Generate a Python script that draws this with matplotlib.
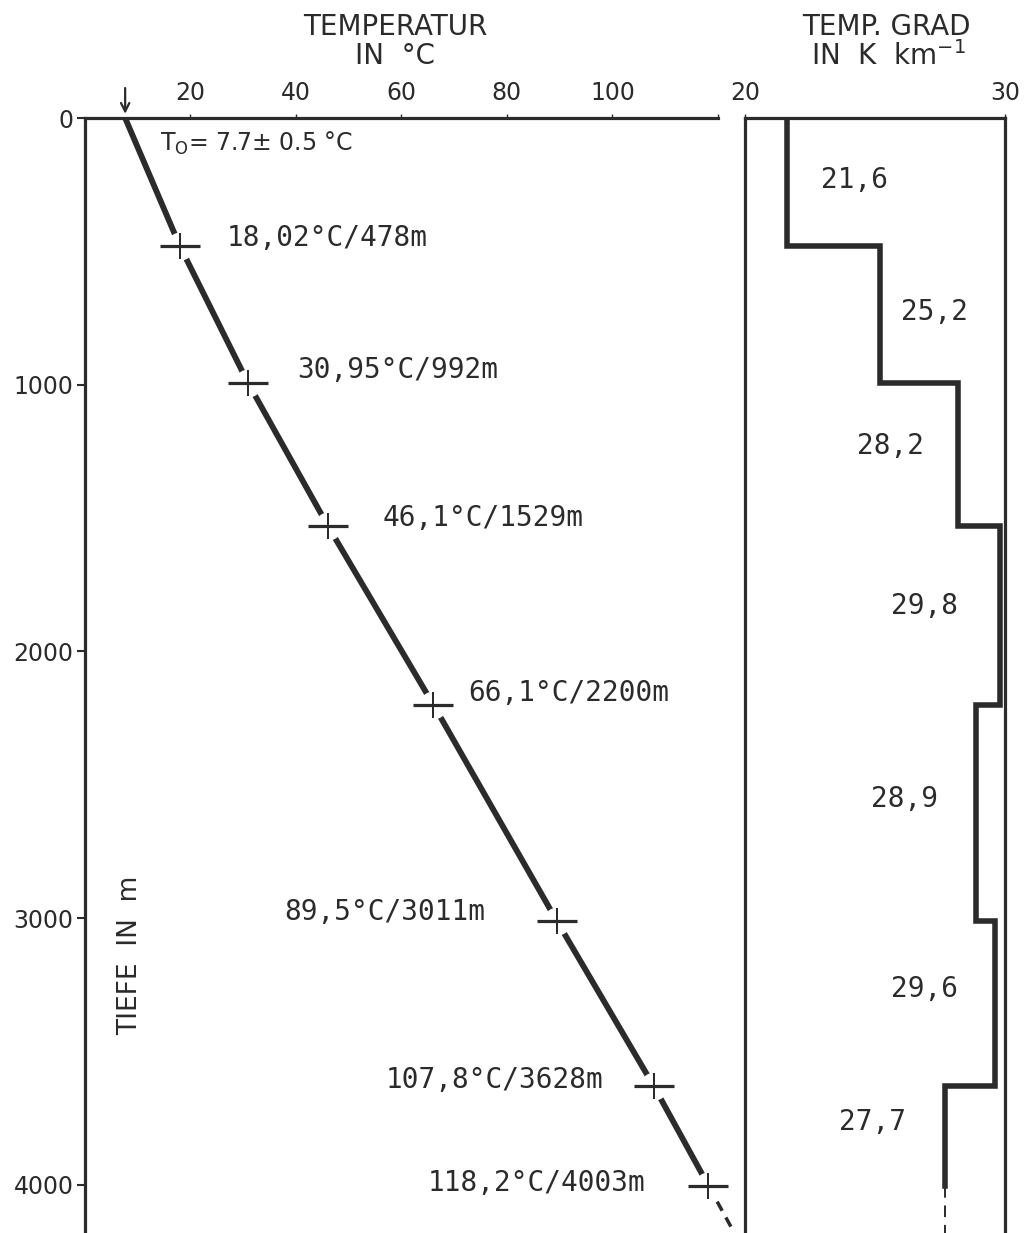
import matplotlib
matplotlib.use('Agg')
import matplotlib.pyplot as plt
import numpy as np

# ---------------- data ----------------
depth_m = [0, 478, 992, 1529, 2200, 3011, 3628, 4003]
temp_c = [7.7, 18.02, 30.95, 46.1, 66.1, 89.5, 107.8, 118.2]
point_labels = ['18,02°C/478m', '30,95°C/992m', '46,1°C/1529m', '66,1°C/2200m',
                '89,5°C/3011m', '107,8°C/3628m', '118,2°C/4003m']
grad_top = [0, 478, 992, 1529, 2200, 3011, 3628]
grad_bottom = [478, 992, 1529, 2200, 3011, 3628, 4003]
grad_values = [21.6, 25.2, 28.2, 29.8, 28.9, 29.6, 27.7]
grad_labels = ['21,6', '25,2', '28,2', '29,8', '28,9', '29,6', '27,7']
temp_ticks = [20, 40, 60, 80, 100, 120]
temp_ticklabels = ['20', '40', '60', '80', '100', '']
depth_ticks = [0, 1000, 2000, 3000, 4000]
grad_ticks = [20, 30]
extrap_depth = 4180

# ---------------- layout ----------------
W, H = 1026, 1233
fig = plt.figure(figsize=(W / 100, H / 100), dpi=100)
PT = 0.72  # points per pixel
INK = '#2b2b2b'
MONO = 'DejaVu Sans Mono'


def fx(px):
    return px / W


def fy(py):
    return 1 - py / H


top_frac = 1 - 118 / H
axT = fig.add_axes([84.5 / W, 0, (718 - 84.5) / W, top_frac])
axG = fig.add_axes([745 / W, 0, (1005 - 745) / W, top_frac])

# ---------- temperature panel ----------
axT.set_xlim(0, 120)
axT.set_ylim(extrap_depth, 0)
axT.plot(temp_c, depth_m, color=INK, lw=4.2, solid_capstyle='butt', zorder=2)
# dashed extrapolation with last gradient
last_grad = grad_values[-1]
ext_t = temp_c[-1] + last_grad * (extrap_depth - depth_m[-1]) / 1000
axT.plot([temp_c[-1], ext_t], [depth_m[-1], extrap_depth], color=INK, lw=2.5,
         ls=(0, (3, 2.2)), clip_on=False, zorder=2)
# gaps + crosshairs at measured points
axT.plot(temp_c[1:], depth_m[1:], ls='none', marker='o', ms=28 * PT,
         mfc='white', mec='none', zorder=3, clip_on=False)
axT.plot(temp_c[1:], depth_m[1:], ls='none', marker='_', ms=40 * PT,
         mew=3.2 * PT, color=INK, zorder=4, clip_on=False)
axT.plot(temp_c[1:], depth_m[1:], ls='none', marker='|', ms=26 * PT,
         mew=2.0 * PT, color=INK, zorder=4, clip_on=False)

offsets_px = [(47, 8, 'left'), (49, 13, 'left'), (55, 8, 'left'), (35, 12, 'left'),
              (-72, 9, 'right'), (-50, 6, 'right'), (-63, 3, 'right')]
for t, d, lab, (dx, dy, ha) in zip(temp_c[1:], depth_m[1:], point_labels, offsets_px):
    axT.annotate(lab, xy=(t, d), xytext=(dx * PT, dy * PT), textcoords='offset points',
                 ha=ha, va='center', fontsize=20, family=MONO, color=INK)

fig.text(fx(160), fy(143), r'T$_{\mathsf{O}}$= 7.7± 0.5 °C',
         fontsize=17, color=INK, va='center', ha='left')
axT.annotate('', xy=(temp_c[0], 0), xytext=(0, 30 * PT), textcoords='offset points',
             xycoords='data',
             arrowprops=dict(arrowstyle='->,head_width=0.3,head_length=0.6',
                             color=INK, lw=1.6, shrinkA=0, shrinkB=3))

for s in ['right', 'bottom']:
    axT.spines[s].set_visible(False)
for s in ['top', 'left']:
    axT.spines[s].set_linewidth(2.3)
    axT.spines[s].set_color(INK)
axT.xaxis.tick_top()
axT.set_xticks(temp_ticks)
axT.set_xticklabels(temp_ticklabels)
axT.tick_params(axis='x', top=True, bottom=False, length=3, width=1, pad=6,
                labelsize=17, colors=INK)
axT.set_yticks(depth_ticks)
axT.set_yticklabels([str(v) for v in depth_ticks])
axT.tick_params(axis='y', length=6, width=1.5, pad=2, labelsize=17, colors=INK)

fig.text(fx(130), fy(955), 'TIEFE  IN  m', rotation=90, fontsize=19,
         ha='center', va='center', color=INK)

fig.text(fx(395), fy(27), 'TEMPERATUR', ha='center', va='center', fontsize=20, color=INK)
fig.text(fx(395), fy(56), 'IN  °C', ha='center', va='center', fontsize=20, color=INK)
fig.text(fx(886), fy(27), 'TEMP. GRAD', ha='center', va='center', fontsize=20, color=INK)
fig.text(fx(888), fy(56), r'IN  K  km$^{\mathsf{-1}}$', ha='center', va='center',
         fontsize=20, color=INK)

# ---------- gradient panel ----------
axG.set_xlim(20, 30)
axG.set_ylim(extrap_depth, 0)
xs, ys = [], []
for top, bot, g in zip(grad_top, grad_bottom, grad_values):
    xs += [g, g]
    ys += [top, bot]
axG.plot(xs, ys, color=INK, lw=4.0, solid_joinstyle='miter', zorder=3)
axG.plot([grad_values[-1], grad_values[-1]], [grad_bottom[-1], extrap_depth],
         color=INK, lw=1.4, ls=(0, (6, 4)), zorder=3)

label_x = [24.2, 27.3, 25.6, 26.9, 26.15, 26.9, 24.9]
label_d = [232, 727, 1228, 1831, 2554, 3266, 3764]
for x, d, lab in zip(label_x, label_d, grad_labels):
    axG.text(x, d, lab, ha='center', va='center', fontsize=20, family=MONO, color=INK)

axG.spines['bottom'].set_visible(False)
for s in ['top', 'left', 'right']:
    axG.spines[s].set_linewidth(2.3)
    axG.spines[s].set_color(INK)
axG.xaxis.tick_top()
axG.set_xticks(grad_ticks)
axG.set_xticklabels([str(v) for v in grad_ticks])
axG.tick_params(axis='x', top=True, bottom=False, length=3, width=1, pad=6,
                labelsize=17, colors=INK)
axG.set_yticks([])

fig.savefig('out.png', dpi=100, facecolor='white')
